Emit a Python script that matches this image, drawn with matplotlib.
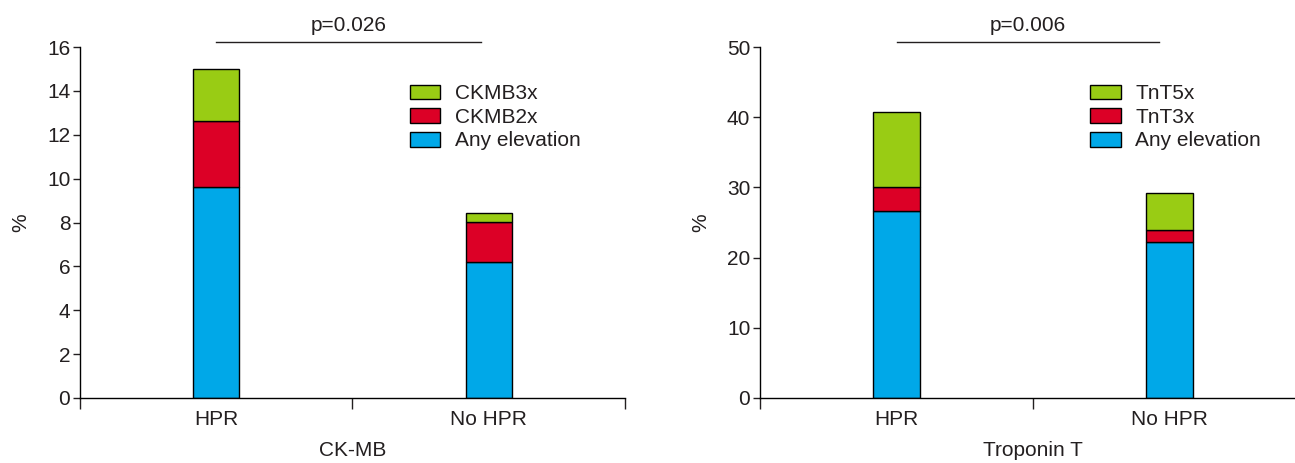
import matplotlib.pyplot as plt
from matplotlib.transforms import blended_transform_factory

plt.rcParams['font.family'] = ['Liberation Sans', 'DejaVu Sans']
plt.rcParams['font.size'] = 15
plt.rcParams['text.color'] = '#231f20'
plt.rcParams['axes.labelcolor'] = '#231f20'
plt.rcParams['xtick.color'] = '#231f20'
plt.rcParams['ytick.color'] = '#231f20'

groups = ['HPR', 'No HPR']

# CK-MB (%), stacked: any elevation, 2x, 3x
ckmb_any = [9.6, 6.2]
ckmb_2x = [3.05, 1.82]
ckmb_3x = [2.35, 0.4]
ckmb_labels = ['Any elevation', 'CKMB2x', 'CKMB3x']

# Troponin T (%)
tnt_any = [26.6, 22.2]
tnt_3x = [3.45, 1.7]
tnt_5x = [10.65, 5.3]
tnt_labels = ['Any elevation', 'TnT3x', 'TnT5x']

colors = ['#00a8e8', '#dc0026', '#99cc14']

fig = plt.figure(figsize=(12.95, 4.63), dpi=100)
ax1 = fig.add_axes([0.0618, 0.1404, 0.4208, 0.758])
ax2 = fig.add_axes([0.5869, 0.1404, 0.4216, 0.758])


def draw(ax, any_, mid, top, labels, ymax, ystep, xlabel, ptext, pend):
    x = range(len(groups))
    w = 0.17
    b1 = ax.bar(x, any_, w, color=colors[0], edgecolor='black', linewidth=1)
    b2 = ax.bar(x, mid, w, bottom=any_, color=colors[1], edgecolor='black', linewidth=1)
    bot = [a + m for a, m in zip(any_, mid)]
    b3 = ax.bar(x, top, w, bottom=bot, color=colors[2], edgecolor='black', linewidth=1)

    ax.set_xlim(-0.5, 1.5)
    ax.set_ylim(0, ymax)
    ax.set_yticks(range(0, ymax + 1, ystep))
    ax.set_xticks([-0.5, 0.5, 1.5])
    ax.set_xticklabels([])
    ax.set_xticks(list(x), minor=True)
    ax.set_xticklabels(groups, minor=True)
    ax.tick_params(axis='x', which='major', length=8, width=1)
    ax.tick_params(axis='x', which='minor', length=0, pad=9)
    ax.tick_params(axis='y', length=5, width=1, pad=2)
    for s in ['top', 'right']:
        ax.spines[s].set_visible(False)
    for s in ['left', 'bottom']:
        ax.spines[s].set_linewidth(1)
    ax.set_ylabel('%', labelpad=12)
    ax.set_xlabel(xlabel, labelpad=8)

    tr = blended_transform_factory(ax.transData, ax.transAxes)
    ax.plot([0, pend], [1.014, 1.014], color='#231f20', lw=1,
            transform=tr, clip_on=False)
    ax.text(pend / 2, 1.035, ptext, transform=tr, ha='center', va='bottom')

    ax.legend([b3, b2, b1], labels[::-1], loc='upper left',
              bbox_to_anchor=(0.605, 0.894), frameon=False,
              borderaxespad=0, borderpad=0, handlelength=1.45,
              handleheight=0.72, labelspacing=0.22, handletextpad=0.7)


draw(ax1, ckmb_any, ckmb_2x, ckmb_3x, ckmb_labels, 16, 2, 'CK-MB', 'p=0.026', 0.97)
draw(ax2, tnt_any, tnt_3x, tnt_5x, tnt_labels, 50, 10, 'Troponin T', 'p=0.006', 0.96)

fig.savefig('out.png', dpi=100)
